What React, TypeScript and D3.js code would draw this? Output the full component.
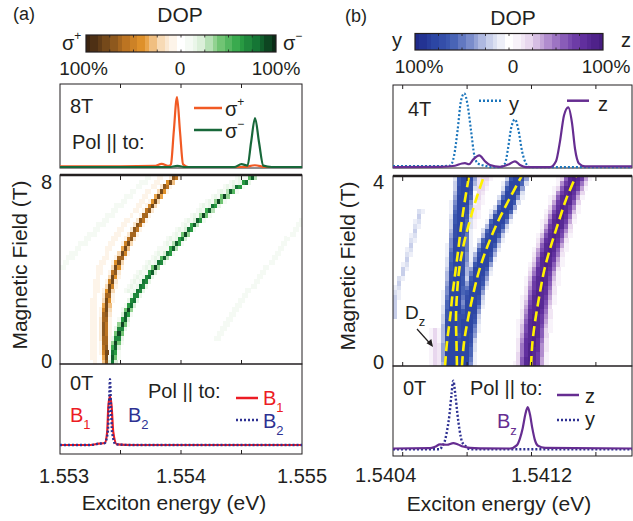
import React, { useMemo } from "react";
import * as d3 from "d3";

const FONT = "'Liberation Sans', Arial, Helvetica, sans-serif";
const INK = "#231f20";

// ================= Panel (a) =================
const A_ENERGY_RANGE = [1.553, 1.555];
const A_ENERGY_TICKS = [1.553, 1.5535, 1.554, 1.5545, 1.555];
const A_ENERGY_LABELS = ["1.553", "1.554", "1.555"];
const A_ENERGY_LABEL_AT = [1.553, 1.554, 1.555];
const A_FIELD_RANGE = [0, 8];
const A_FIELD_LABELS = ["0", "8"];
const A_FIELD_LABEL_AT = [0, 8];

// peak energies of the heat-map branches (eV) vs field (T)
const A_FIELDS = [0, 0.5, 1, 1.5, 2, 2.5, 3, 3.5, 4, 4.5, 5, 5.5, 6, 6.5, 7, 7.5, 8];
const A_PLUS_PEAK = [1.5533926, 1.5533818, 1.5533744, 1.5533719, 1.5533744, 1.5533851, 1.5534033, 1.5534297, 1.5534595, 1.5535, 1.5535454, 1.5535991, 1.5536587, 1.5537273, 1.5537975, 1.5538719, 1.5539669];
const A_MINUS_PEAK = [1.5534256, 1.5534463, 1.5534686, 1.5535, 1.5535372, 1.5535785, 1.5536363, 1.5536983, 1.5537686, 1.5538595, 1.5539504, 1.5540372, 1.5541239, 1.5542314, 1.5543347, 1.5544711, 1.5546116];
const A_FAINT_PLUS_B = [0, 1, 2, 3, 4, 5, 6, 7, 8];
const A_FAINT_PLUS_E = [1.5532892, 1.5532727, 1.5532727, 1.5532892, 1.5533223, 1.5534132, 1.5535454, 1.553686, 1.553843];
const A_FAINT_M1_B = [4, 5, 6, 7, 8];
const A_FAINT_M1_E = [1.553, 1.5531653, 1.5533554, 1.5535454, 1.5537438];
const A_FAINT_M2_B = [3, 4, 5, 6, 7, 8];
const A_FAINT_M2_E = [1.553562, 1.553686, 1.5538677, 1.5540496, 1.5542562, 1.5545124];
const A_FAINT_M3_B = [1, 2, 3, 4, 5, 6, 7];
const A_FAINT_M3_E = [1.554281, 1.554405, 1.5545454, 1.5546942, 1.5548429, 1.5549835, 1.5551074];
// DOP amplitude of each branch: sigma+, sigma-, faint sigma+, faint sigma- (x3)
const A_BRANCH_DOP = [-0.82, 0.9, -0.07, 0.075, 0.12, 0.06];

// spectra at 8 T
const A8_PLUS_E = [1.553, 1.5535, 1.55378, 1.55384, 1.5539, 1.553917, 1.55394, 1.553967, 1.553992, 1.554017, 1.55406, 1.55452, 1.55461, 1.5547, 1.555];
const A8_PLUS_I = [0.01, 0.01, 0.015, 0.045, 0.015, 0.04, 0.5, 1.0, 0.5, 0.04, 0.0, 0.0, 0.025, 0.0, 0.0];
const A8_MINUS_E = [1.553, 1.5539, 1.55397, 1.55404, 1.55444, 1.5545, 1.55455, 1.554579, 1.554612, 1.554645, 1.55468, 1.55475, 1.555];
const A8_MINUS_I = [0, 0, 0.015, 0, 0, 0.04, 0.02, 0.35, 0.7, 0.35, 0.02, 0, 0];
// spectra at 0 T
const A0_B1_E = [1.553, 1.55325, 1.55332, 1.55337, 1.55339, 1.5534, 1.553413, 1.553426, 1.55344, 1.55347, 1.5536, 1.555];
const A0_B1_I = [0, 0, 0.02, 0.03, 0.2, 0.6, 0.735, 0.6, 0.2, 0.01, 0, 0];
const A0_B2_E = [1.553, 1.55325, 1.55332, 1.55337, 1.553395, 1.553405, 1.553413, 1.553421, 1.55343, 1.55346, 1.5536, 1.555];
const A0_B2_I = [0, 0, 0.02, 0.03, 0.2, 0.6, 1.0, 0.6, 0.2, 0.01, 0, 0];

// ================= Panel (b) =================
const B_ENERGY_RANGE = [1.5403398, 1.5418242];
const B_ENERGY_TICKS = [1.5404, 1.5408, 1.5412, 1.5416];
const B_ENERGY_LABELS = ["1.5404", "1.5412"];
const B_ENERGY_LABEL_AT = [1.5404, 1.5412];
const B_FIELD_RANGE = [0, 4];
const B_FIELD_LABELS = ["0", "4"];
const B_FIELD_LABEL_AT = [0, 4];

const B_FIELDS = [0, 0.5, 1, 1.5, 2, 2.5, 3, 3.5, 4];
// yellow dashed fits
const B_FIT1 = [1.540663, 1.540675, 1.540694, 1.540709, 1.540728, 1.540747, 1.540765, 1.540787, 1.540812];
const B_FIT2 = [1.540737, 1.540734, 1.540731, 1.540737, 1.54075, 1.540775, 1.540812, 1.540855, 1.540905];
const B_FIT3 = [1.540768, 1.540781, 1.540806, 1.540837, 1.540874, 1.540924, 1.540986, 1.54106, 1.541139];
const B_FIT4 = [1.541197, 1.541206, 1.541225, 1.54125, 1.541278, 1.541318, 1.541365, 1.541414, 1.541476];
// measured bands
const B_BAND_L = [1.540706, 1.540706, 1.540712, 1.540725, 1.540737, 1.54075, 1.540762, 1.540778, 1.540793];
const B_BAND_R = [1.540768, 1.540781, 1.540806, 1.540837, 1.540874, 1.540924, 1.540986, 1.54106, 1.541116];
const B_BAND_Z = B_FIT4;
const B_BAND_D_DOP = [0, 0, 0, 0, 0, 0.08, 0.16, 0.2, 0.22];
const B_DZ_B = [0, 0.4, 0.8];
const B_DZ_E = [1.540608, 1.540605, 1.5406];
const B_FAINT_B = [1.0, 1.5, 2.0, 2.5, 3.0, 3.3];
const B_FAINT_E = [1.540346, 1.540358, 1.540402, 1.540445, 1.540489, 1.540514];
const B_BAND_DOP = [-0.82, -0.82, 0.9, 0.2, -0.2];

// spectra at 4 T
const B4_Y_E = [1.5403398, 1.5406317, 1.5406938, 1.5407186, 1.540741, 1.5407621, 1.5407826, 1.5408025, 1.5408242, 1.5408459, 1.5408677, 1.5409112, 1.5409546, 1.5410043, 1.5410354, 1.541054, 1.5410727, 1.5410975, 1.5411192, 1.541141, 1.5411658, 1.5411907, 1.5418242];
const B4_Y_I = [0.015, 0.015, 0.02, 0.15, 0.5, 0.9, 1.0, 0.85, 0.5, 0.15, 0.05, 0.02, 0.0, 0.0, 0.05, 0.25, 0.52, 0.646, 0.5, 0.22, 0.05, 0.0, 0.0];
const B4_Z_E = [1.5403398, 1.5406317, 1.5407248, 1.5407683, 1.5407869, 1.5408118, 1.5408366, 1.5408758, 1.5409112, 1.5409422, 1.5410043, 1.5410602, 1.5410975, 1.5411285, 1.5411658, 1.5413149, 1.5413521, 1.541377, 1.5414018, 1.5414285, 1.5414515, 1.5414702, 1.541495, 1.5415323, 1.5418242];
const B4_Z_I = [0.0, 0.005, 0.02, 0.05, 0.055, 0.04, 0.1, 0.16, 0.08, 0.03, 0.005, 0.04, 0.08, 0.03, 0.0, 0.0, 0.08, 0.35, 0.7, 0.81, 0.6, 0.25, 0.05, 0.01, 0.01];
// spectra at 0 T
const B0_Y_E = [1.5403398, 1.5406317, 1.5406441, 1.5406627, 1.5406783, 1.5406907, 1.5407031, 1.5407143, 1.5407267, 1.5407404, 1.5407528, 1.5407683, 1.5407932, 1.540818, 1.5418242];
const B0_Y_I = [-0.012, -0.012, 0.03, 0.12, 0.3, 0.5, 0.8, 1.0, 0.8, 0.5, 0.28, 0.1, 0.03, -0.012, -0.012];
const B0_Z_E = [1.5403398, 1.5405696, 1.5406006, 1.5406317, 1.5406751, 1.5407143, 1.5407435, 1.5407745, 1.540818, 1.5408801, 1.5410664, 1.5411099, 1.5411285, 1.5411453, 1.5411615, 1.5411764, 1.5411907, 1.541205, 1.5412217, 1.5412403, 1.5412838, 1.5418242];
const B0_Z_I = [0.0, 0.005, 0.025, 0.06, 0.055, 0.08, 0.06, 0.03, 0.01, 0.003, 0.0, 0.05, 0.15, 0.3, 0.5, 0.61, 0.5, 0.3, 0.12, 0.04, 0.01, 0.0];

// ================= colour maps =================
const CMAP_STOPS = [-1, -0.8, -0.6, -0.4, -0.2, 0, 0.2, 0.4, 0.6, 0.8, 1];
const CMAP_A = ["#3b2410", "#70461a", "#b56f20", "#e5952c", "#f8dfc0", "#ffffff", "#e2f2e0", "#7cc97c", "#2ea546", "#137234", "#0a2c16"];
const CMAP_B = ["#1f2a8a", "#2b44a3", "#3f5cb2", "#8494cf", "#cdd3ec", "#ffffff", "#ecdcf0", "#b996d2", "#8152b4", "#5e2c9c", "#461d80"];

type Branch = { b: number[]; e: number[]; w: number | number[]; s: number; p?: number };

function makeHeat(branches: Branch[], eRange: number[], bRange: number[], nCols: number, nRows: number) {
  const prepared = branches.map((br) => ({
    lo: br.b[0],
    hi: br.b[br.b.length - 1],
    c: d3.scaleLinear().domain(br.b).range(br.e),
    w: Array.isArray(br.w) ? d3.scaleLinear().domain(br.b).range(br.w as number[]) : () => br.w as number,
    s: br.s,
    p: br.p ?? 2,
  }));
  const dE = (eRange[1] - eRange[0]) / nCols;
  const dB = (bRange[1] - bRange[0]) / nRows;
  const cells: { e0: number; e1: number; b0: number; b1: number; v: number }[] = [];
  for (let i = 0; i < nRows; i++) {
    const b = bRange[0] + (i + 0.5) * dB;
    for (let j = 0; j < nCols; j++) {
      const e = eRange[0] + (j + 0.5) * dE;
      let pos = 0, neg = 0;
      for (const pr of prepared) {
        if (b < pr.lo - 1e-9 || b > pr.hi + 1e-9) continue;
        const c = pr.c(b);
        const g = Math.exp(-0.5 * Math.abs((e - c) / pr.s) ** pr.p);
        const v = (pr.w as any)(b) * g;
        if (v > 0) pos = Math.max(pos, v);
        else neg = Math.min(neg, v);
      }
      const v = pos + neg;
      if (Math.abs(v) > 0.035) cells.push({ e0: eRange[0] + j * dE, e1: eRange[0] + (j + 1) * dE, b0: i * dB, b1: (i + 1) * dB, v });
    }
  }
  return cells;
}

const q = (v: number) => Math.max(-1, Math.min(1, Math.round(v * 14) / 14));

function spectrumPath(es: number[], is: number[], x: any, y: any) {
  const idx = es.map((_, i) => i);
  return d3.line<number>().x((i) => x(es[i])).y((i) => y(is[i])).curve(d3.curveMonotoneX)(idx) || "";
}

function Colorbar({ x0, x1, y0, y1, cmap }: any) {
  const n = 48;
  const strips = d3.range(n).map((k) => -1 + (k + 0.5) * (2 / n));
  const xs = d3.scaleLinear().domain([-1, 1]).range([x0, x1]);
  const ticks = d3.range(1, 8).map((k) => -1 + k * 0.25);
  return (
    <g>
      {strips.map((v, k) => (
        <rect key={k} x={xs(v - 1 / n)} y={y0} width={xs(v + 1 / n) - xs(v - 1 / n) + 0.4} height={y1 - y0} fill={cmap(q(v))} shapeRendering="crispEdges" />
      ))}
      {ticks.map((t, k) => (
        <g key={k} stroke={INK} strokeWidth={0.8}>
          <line x1={xs(t)} x2={xs(t)} y1={y0} y2={y0 + 2.5} />
          <line x1={xs(t)} x2={xs(t)} y1={y1} y2={y1 - 2.5} />
        </g>
      ))}
      <rect x={x0} y={y0} width={x1 - x0} height={y1 - y0} fill="none" stroke={INK} strokeWidth={1.2} />
    </g>
  );
}

export default function App() {
  const cmapA = d3.scaleLinear<string>().domain(CMAP_STOPS).range(CMAP_A).clamp(true);
  const cmapB = d3.scaleLinear<string>().domain(CMAP_STOPS).range(CMAP_B).clamp(true);

  // scales panel (a)
  const xA = d3.scaleLinear().domain(A_ENERGY_RANGE).range([60, 302]);
  const yHA = d3.scaleLinear().domain(A_FIELD_RANGE).range([364, 175]);
  const yTopA = d3.scaleLinear().domain([0, 1]).range([167, 97]);
  const yBotA = d3.scaleLinear().domain([0, 1]).range([445, 379.3]);
  // scales panel (b)
  const xB = d3.scaleLinear().domain(B_ENERGY_RANGE).range([393, 632]);
  const yHB = d3.scaleLinear().domain(B_FIELD_RANGE).range([366, 176]);
  const yTopB = d3.scaleLinear().domain([0, 1]).range([167.2, 93.3]);
  const yBotB = d3.scaleLinear().domain([0, 1]).range([448.5, 380.7]);

  const heatA = useMemo(
    () =>
      makeHeat(
        [
          { b: A_FIELDS, e: A_PLUS_PEAK, w: A_BRANCH_DOP[0], s: 0.0000185 },
          { b: A_FIELDS, e: A_MINUS_PEAK, w: A_BRANCH_DOP[1], s: 0.0000195 },
          { b: A_FAINT_PLUS_B, e: A_FAINT_PLUS_E, w: A_BRANCH_DOP[2], s: 0.00002 },
          { b: A_FAINT_M1_B, e: A_FAINT_M1_E, w: A_BRANCH_DOP[3], s: 0.000025 },
          { b: A_FAINT_M2_B, e: A_FAINT_M2_E, w: A_BRANCH_DOP[4], s: 0.000025 },
          { b: A_FAINT_M3_B, e: A_FAINT_M3_E, w: A_BRANCH_DOP[5], s: 0.000025 },
        ],
        A_ENERGY_RANGE, A_FIELD_RANGE, 80, 40
      ),
    []
  );
  const heatB = useMemo(
    () =>
      makeHeat(
        [
          { b: B_FIELDS, e: B_BAND_L, w: B_BAND_DOP[0], s: 0.00005, p: 4 },
          { b: B_FIELDS, e: B_BAND_R, w: B_BAND_DOP[1], s: 0.00005, p: 4 },
          { b: B_FIELDS, e: B_BAND_Z, w: B_BAND_DOP[2], s: 0.000056, p: 3 },
          { b: B_FIELDS, e: B_FIT2, w: B_BAND_D_DOP, s: 0.000032, p: 3 },
          { b: B_DZ_B, e: B_DZ_E, w: B_BAND_DOP[3], s: 0.000022 },
          { b: B_FAINT_B, e: B_FAINT_E, w: B_BAND_DOP[4], s: 0.000011 },
        ],
        B_ENERGY_RANGE, B_FIELD_RANGE, 60, 40
      ),
    []
  );

  const fitLine = (fit: number[]) =>
    d3.line<number>().x((i) => xB(fit[i])).y((i) => yHB(B_FIELDS[i])).curve(d3.curveCatmullRom)(fit.map((_, i) => i)) || "";

  const ticksAt = (vals: number[], x: any, y: number, dir: number, key: string) =>
    vals.map((v, k) => <line key={key + k} x1={x(v)} x2={x(v)} y1={y} y2={y + dir * 4} stroke={INK} strokeWidth={1} />);

  const B_LABEL_SHIFT = [-17, 10];

  return (
    <svg width={633} height={521} style={{ position: "absolute", left: 0, top: 0, background: "#fff" }} fontFamily={FONT}>
      <rect x={0} y={0} width={633} height={521} fill="#fff" />
      {/* ===================== PANEL (a) ===================== */}
      <text x={13} y={20} fontSize={18} fill={INK}>(a)</text>
      <text x={180} y={21.5} fontSize={21} fill={INK} textAnchor="middle">DOP</text>
      <Colorbar x0={86} x1={276} y0={35} y1={52} cmap={cmapA} />
      <text x={62} y={50} fontSize={20} fill={INK}>σ<tspan fontSize={12} dy={-10}>+</tspan></text>
      <text x={283} y={50} fontSize={20} fill={INK}>σ<tspan fontSize={12} dy={-10}>−</tspan></text>
      <text x={83.5} y={75} fontSize={19} fill={INK} textAnchor="middle">100%</text>
      <text x={180} y={75} fontSize={19} fill={INK} textAnchor="middle">0</text>
      <text x={276} y={75} fontSize={19} fill={INK} textAnchor="middle">100%</text>

      {/* top spectrum (a) */}
      <rect x={60} y={84} width={242} height={84} fill="none" stroke={INK} strokeWidth={1} />
      {ticksAt(A_ENERGY_TICKS.slice(1, -1), xA, 84, 1, "ta")}
      <path d={spectrumPath(A8_PLUS_E, A8_PLUS_I, xA, yTopA)} fill="none" stroke="#f15a24" strokeWidth={2.2} />
      <path d={spectrumPath(A8_MINUS_E, A8_MINUS_I, xA, yTopA)} fill="none" stroke="#18683a" strokeWidth={2.2} />
      <text x={70} y={113} fontSize={20} fill={INK}>8T</text>
      <text x={72} y={149} fontSize={20} fill={INK}>Pol || to:</text>
      <line x1={194} x2={222} y1={108} y2={108} stroke="#f15a24" strokeWidth={2.5} />
      <text x={225} y={116} fontSize={20} fill={INK}>σ<tspan fontSize={12} dy={-10}>+</tspan></text>
      <line x1={194} x2={222} y1={130} y2={130} stroke="#18683a" strokeWidth={2.5} />
      <text x={225} y={138} fontSize={20} fill={INK}>σ<tspan fontSize={12} dy={-10}>−</tspan></text>

      {/* heat map (a) */}
      <g shapeRendering="crispEdges">
        {heatA.map((c, k) => (
          <rect key={k} x={xA(c.e0)} y={yHA(c.b1)} width={xA(c.e1) - xA(c.e0) + 0.3} height={yHA(c.b0) - yHA(c.b1) + 0.3} fill={cmapA(q(c.v))} />
        ))}
      </g>
      <rect x={60} y={175} width={242} height={189} fill="none" stroke={INK} strokeWidth={1} />
      <line x1={60} x2={302} y1={175} y2={175} stroke={INK} strokeWidth={2.4} />
      {ticksAt(A_ENERGY_TICKS.slice(1, -1), xA, 176, 1, "ha1")}
      {ticksAt(A_ENERGY_TICKS.slice(1, -1), xA, 364, -1, "ha2")}
      {A_FIELD_LABELS.map((t, k) => (
        <text key={t} x={52} y={A_FIELD_LABEL_AT[k] === 0 ? yHA(0) + 4 : yHA(8) + 14} fontSize={20} fill={INK} textAnchor="end">{t}</text>
      ))}
      <text transform="translate(27,265) rotate(-90)" fontSize={21} fill={INK} textAnchor="middle">Magnetic Field (T)</text>

      {/* bottom spectrum (a) */}
      <rect x={60} y={364} width={242} height={90} fill="none" stroke={INK} strokeWidth={1} />
      {ticksAt(A_ENERGY_TICKS.slice(1, -1), xA, 454, -1, "ba")}
      <path d={spectrumPath(A0_B1_E, A0_B1_I, xA, yBotA)} fill="none" stroke="#ec1c24" strokeWidth={2.2} />
      <path d={spectrumPath(A0_B2_E, A0_B2_I, xA, yBotA)} fill="none" stroke="#2e3192" strokeWidth={2.4} strokeDasharray="2 2" />
      <text x={70} y={390} fontSize={20} fill={INK}>0T</text>
      <text x={70} y={421.5} fontSize={20} fill="#ec1c24">B<tspan fontSize={13} dy={7}>1</tspan></text>
      <text x={128} y={421.5} fontSize={20} fill="#2e3192">B<tspan fontSize={13} dy={7}>2</tspan></text>
      <text x={148} y={398} fontSize={20} fill={INK}>Pol || to:</text>
      <line x1={236} x2={258} y1={398} y2={398} stroke="#ec1c24" strokeWidth={2.5} />
      <text x={263} y={405} fontSize={20} fill="#ec1c24">B<tspan fontSize={13} dy={7}>1</tspan></text>
      <line x1={236} x2={258} y1={420} y2={420} stroke="#2e3192" strokeWidth={2.5} strokeDasharray="2 2" />
      <text x={263} y={428} fontSize={20} fill="#2e3192">B<tspan fontSize={13} dy={7}>2</tspan></text>
      {A_ENERGY_LABELS.map((t, k) => (
        <text key={t} x={xA(A_ENERGY_LABEL_AT[k]) + (k === 0 ? 4 : 0)} y={483} fontSize={20} fill={INK} textAnchor="middle">{t}</text>
      ))}
      <text x={174} y={510} fontSize={21} fill={INK} textAnchor="middle">Exciton energy (eV)</text>

      {/* ===================== PANEL (b) ===================== */}
      <text x={345} y={22} fontSize={18} fill={INK}>(b)</text>
      <text x={513} y={25} fontSize={21} fill={INK} textAnchor="middle">DOP</text>
      <Colorbar x0={415} x1={603} y0={33.5} y1={50} cmap={cmapB} />
      <text x={392} y={46.5} fontSize={20} fill={INK}>y</text>
      <text x={621} y={46.5} fontSize={20} fill={INK}>z</text>
      <text x={419} y={73} fontSize={19} fill={INK} textAnchor="middle">100%</text>
      <text x={513} y={73} fontSize={19} fill={INK} textAnchor="middle">0</text>
      <text x={606} y={73} fontSize={19} fill={INK} textAnchor="middle">100%</text>

      {/* top spectrum (b) */}
      <rect x={393} y={85} width={239} height={83} fill="none" stroke={INK} strokeWidth={1} />
      {ticksAt(B_ENERGY_TICKS, xB, 85, 1, "tb")}
      <path d={spectrumPath(B4_Y_E, B4_Y_I, xB, yTopB)} fill="none" stroke="#1b75bb" strokeWidth={2.2} strokeDasharray="2 2" />
      <path d={spectrumPath(B4_Z_E, B4_Z_I, xB, yTopB)} fill="none" stroke="#662d91" strokeWidth={2.2} />
      <text x={408} y={116} fontSize={20} fill={INK}>4T</text>
      <line x1={479} x2={502} y1={100.7} y2={100.7} stroke="#1b75bb" strokeWidth={2.5} strokeDasharray="2 2" />
      <text x={509} y={111} fontSize={20} fill={INK}>y</text>
      <line x1={567} x2={589} y1={100.7} y2={100.7} stroke="#662d91" strokeWidth={2.5} />
      <text x={598} y={111} fontSize={20} fill={INK}>z</text>

      {/* heat map (b) */}
      <g shapeRendering="crispEdges">
        {heatB.map((c, k) => (
          <rect key={k} x={xB(c.e0)} y={yHB(c.b1)} width={xB(c.e1) - xB(c.e0) + 0.3} height={yHB(c.b0) - yHB(c.b1) + 0.3} fill={cmapB(q(c.v))} />
        ))}
      </g>
      {[B_FIT1, B_FIT2, B_FIT3, B_FIT4].map((f, k) => (
        <path key={k} d={fitLine(f)} fill="none" stroke="#fff200" strokeWidth={2.6} strokeDasharray="10 5" />
      ))}
      <rect x={393} y={176} width={239} height={190} fill="none" stroke={INK} strokeWidth={1} />
      <line x1={393} x2={632} y1={176} y2={176} stroke={INK} strokeWidth={2.4} />
      {ticksAt(B_ENERGY_TICKS, xB, 177, 1, "hb1")}
      {ticksAt(B_ENERGY_TICKS, xB, 366, -1, "hb2")}
      {B_FIELD_LABELS.map((t, k) => (
        <text key={t} x={384} y={B_FIELD_LABEL_AT[k] === 0 ? yHB(0) + 3 : yHB(4) + 13} fontSize={20} fill={INK} textAnchor="end">{t}</text>
      ))}
      <text transform="translate(355,266) rotate(-90)" fontSize={21} fill={INK} textAnchor="middle">Magnetic Field (T)</text>
      <text x={405} y={319} fontSize={19} fill={INK}>D<tspan fontSize={13} dy={7}>z</tspan></text>
      <line x1={417} x2={430} y1={329} y2={343.5} stroke={INK} strokeWidth={1.2} />
      <path d="M433,347 L426.5,343.2 L431.3,339 Z" fill={INK} />

      {/* bottom spectrum (b) */}
      <rect x={393} y={366} width={239} height={90} fill="none" stroke={INK} strokeWidth={1} />
      {ticksAt(B_ENERGY_TICKS, xB, 456, -1, "bb")}
      <path d={spectrumPath(B0_Y_E, B0_Y_I, xB, yBotB)} fill="none" stroke="#2e3192" strokeWidth={2.4} strokeDasharray="2 2" />
      <path d={spectrumPath(B0_Z_E, B0_Z_I, xB, yBotB)} fill="none" stroke="#662d91" strokeWidth={2.2} />
      <text x={403} y={395} fontSize={20} fill={INK}>0T</text>
      <text x={470} y={395} fontSize={20} fill={INK}>Pol || to:</text>
      <line x1={557} x2={579} y1={395} y2={395} stroke="#662d91" strokeWidth={2.5} />
      <text x={585} y={403} fontSize={20} fill={INK}>z</text>
      <line x1={557} x2={579} y1={420} y2={420} stroke="#2e3192" strokeWidth={2.5} strokeDasharray="2 2" />
      <text x={585} y={426} fontSize={20} fill={INK}>y</text>
      <text x={497} y={428} fontSize={20} fill="#662d91">B<tspan fontSize={13} dy={7}>z</tspan></text>
      {B_ENERGY_LABELS.map((t, k) => (
        <text key={t} x={xB(B_ENERGY_LABEL_AT[k]) + B_LABEL_SHIFT[k]} y={482} fontSize={20} fill={INK} textAnchor="middle">{t}</text>
      ))}
      <text x={499} y={511} fontSize={21} fill={INK} textAnchor="middle">Exciton energy (eV)</text>
    </svg>
  );
}
